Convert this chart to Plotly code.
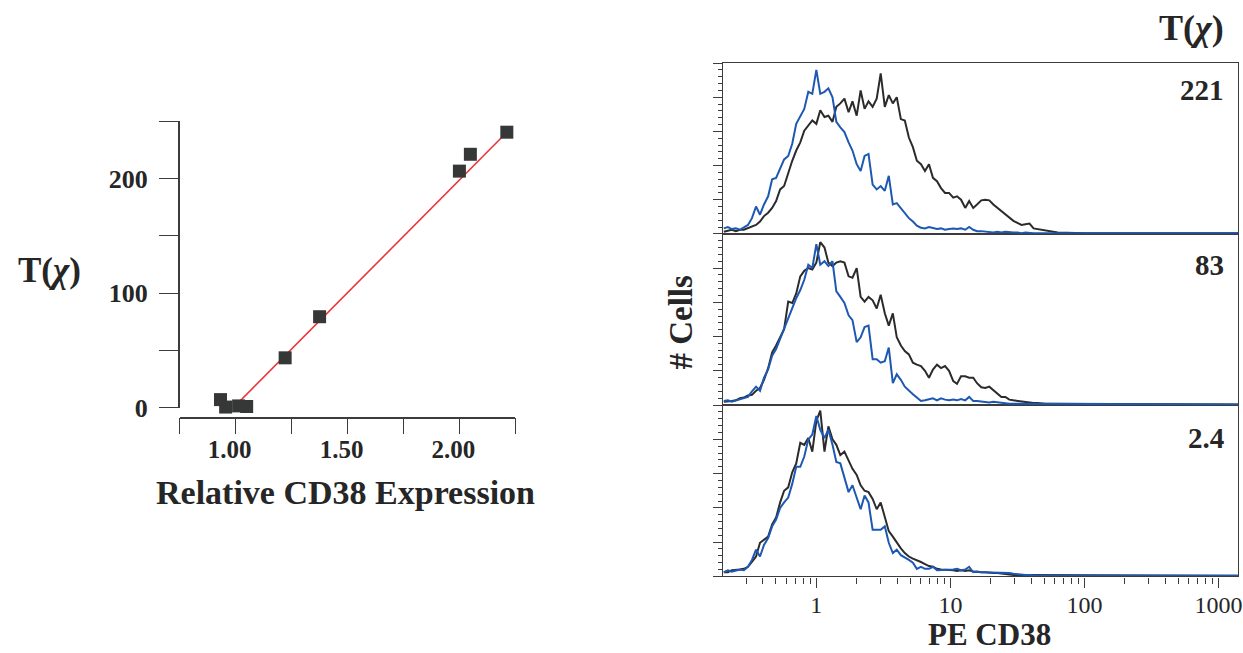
import plotly.graph_objects as go

# ---- Left panel: T(chi) versus relative CD38 expression ----
rel_cd38 = [0.932, 0.955, 1.013, 1.049, 1.221, 1.375, 2.000, 2.049, 2.212]
t_chi = [7.0, 0.5, 1.5, 1.0, 43.5, 79.4, 206.6, 221.3, 240.6]
fit_x = [0.99, 2.212]
fit_y = [0.0, 240.6]

# ---- Right panels: PE CD38 histograms (channel intensity vs. cell count) ----
pe_cd38 = [0.204, 0.219, 0.234, 0.251, 0.269, 0.288, 0.309, 0.331, 0.355, 0.380,
           0.407, 0.437, 0.468, 0.501, 0.537, 0.575, 0.617, 0.661, 0.708, 0.759,
           0.813, 0.871, 0.933, 1.00, 1.07, 1.15, 1.23, 1.32, 1.41, 1.51,
           1.62, 1.74, 1.86, 2.00, 2.14, 2.29, 2.45, 2.63, 2.82, 3.02,
           3.24, 3.47, 3.72, 3.98, 4.27, 4.57, 4.90, 5.25, 5.62, 6.03,
           6.46, 6.92, 7.41, 7.94, 8.51, 9.12, 9.77, 10.5, 11.2, 12.0,
           12.9, 13.8, 14.8, 15.8, 17.0, 18.2, 19.5, 20.9, 22.4, 24.0,
           25.7, 27.5, 29.5, 31.6, 33.9, 36.3, 38.9, 41.7, 44.7, 47.9,
           51.3, 55.0, 58.9, 63.1, 100, 1400]

# T = 221
blue_221 = [8, 10, 7, 8, 6, 9, 13, 23, 40, 28,
            43, 55, 80, 82, 97, 109, 114, 132, 161, 173,
            183, 208, 205, 240, 205, 208, 213, 200, 164, 156,
            149, 134, 122, 102, 92, 114, 117, 72, 65, 70,
            63, 85, 43, 45, 38, 31, 23, 18, 12, 9,
            8, 10, 8, 7, 8, 6, 7, 8, 7, 8,
            6, 10, 6, 4, 4, 3, 3, 2, 3, 2,
            3, 2, 2, 2, 1, 2, 1, 1, 1, 1,
            1, 1, 1, 1, 1, 1]
black_221 = [3, 4, 6, 4, 6, 6, 8, 10, 13, 18,
             26, 31, 38, 48, 65, 70, 90, 107, 122, 134,
             151, 159, 166, 161, 181, 171, 173, 164, 186, 191,
             198, 178, 194, 173, 210, 183, 194, 186, 198, 235,
             186, 203, 191, 200, 168, 166, 141, 127, 107, 102,
             92, 102, 82, 77, 67, 60, 60, 53, 55, 50,
             38, 48, 38, 43, 49, 50, 49, 43, 38, 33,
             28, 23, 19, 16, 13, 14, 15, 8, 7, 5,
             4, 3, 3, 2, 1, 1]

# T = 83
blue_83 = [6, 7, 5, 7, 8, 10, 12, 20, 27, 21,
           40, 52, 72, 82, 97, 111, 126, 139, 156, 168,
           183, 205, 200, 235, 205, 210, 203, 210, 166, 158,
           149, 131, 124, 92, 99, 114, 116, 67, 67, 62,
           64, 84, 32, 45, 37, 27, 21, 16, 11, 6,
           7, 9, 10, 7, 10, 8, 7, 8, 7, 9,
           7, 12, 6, 6, 5, 4, 4, 5, 4, 3,
           3, 2, 2, 2, 2, 1, 1, 1, 1, 1,
           1, 1, 1, 1, 1, 1]
black_83 = [5, 5, 6, 7, 10, 11, 14, 15, 21, 25,
            37, 54, 77, 87, 99, 111, 151, 149, 163, 188,
            196, 200, 198, 208, 238, 230, 208, 203, 208, 210,
            208, 188, 186, 200, 158, 151, 158, 153, 141, 161,
            134, 116, 134, 99, 87, 79, 74, 62, 59, 57,
            50, 40, 52, 59, 54, 57, 50, 35, 31, 42,
            42, 40, 40, 32, 26, 25, 27, 22, 16, 12,
            12, 8, 7, 6, 5, 4, 3, 3, 3, 2,
            2, 2, 2, 2, 1, 1]

# T = 2.4
blue_24 = [6, 9, 7, 9, 10, 9, 14, 24, 39, 29,
           46, 56, 73, 83, 100, 108, 115, 135, 160, 160,
           175, 200, 207, 234, 214, 202, 214, 192, 167, 165,
           143, 123, 133, 113, 98, 118, 108, 68, 68, 68,
           73, 49, 34, 39, 31, 28, 24, 20, 11, 14,
           11, 11, 14, 9, 9, 10, 9, 10, 11, 9,
           10, 14, 6, 7, 6, 6, 5, 6, 5, 5,
           5, 5, 4, 3, 2, 2, 2, 1, 1, 1,
           1, 1, 1, 1, 1, 1]
black_24 = [6, 6, 9, 9, 10, 11, 14, 21, 29, 49,
            53, 58, 76, 86, 108, 125, 130, 152, 165, 195,
            192, 202, 182, 227, 242, 182, 219, 200, 192, 177,
            182, 170, 157, 148, 133, 125, 123, 113, 98, 108,
            88, 66, 58, 49, 41, 34, 29, 26, 24, 21,
            18, 15, 14, 11, 10, 10, 9, 9, 8, 9,
            8, 9, 7, 6, 6, 6, 5, 5, 5, 4,
            4, 3, 2, 2, 2, 2, 1, 1, 1, 1,
            1, 1, 1, 1, 1, 1]

panel_labels = ["221", "83", "2.4"]
decade_ticks = [1, 10, 100, 1000]
decade_text = ["1", "10", "100", "1000"]
minor_ticks = [0.2, 0.3, 0.4, 0.5, 0.6, 0.7, 0.8, 0.9,
               2, 3, 4, 5, 6, 7, 8, 9,
               20, 30, 40, 50, 60, 70, 80, 90,
               200, 300, 400, 500, 600, 700, 800, 900]
left_xticks = [0.75, 1.00, 1.25, 1.50, 1.75, 2.00, 2.25]
left_xtext = ["", "1.00", "", "1.50", "", "2.00", ""]
left_yticks = [0, 50, 100, 150, 200, 250]
left_ytext = ["0", "", "100", "", "200", ""]

FONT = "Liberation Serif"
INK = "#262626"
BLUE = "#1d58b3"
BLACK = "#2b2b2b"
FRAME = "#3c3c3c"

fig = go.Figure()

# fit line, then the points on top
fig.add_trace(go.Scatter(x=fit_x, y=fit_y, mode="lines",
                         line=dict(color="#e8363c", width=1.6),
                         xaxis="x", yaxis="y", showlegend=False, hoverinfo="skip"))
fig.add_trace(go.Scatter(x=rel_cd38, y=t_chi, mode="markers",
                         marker=dict(symbol="square", size=13, color="#363838"),
                         cliponaxis=False,
                         xaxis="x", yaxis="y", showlegend=False))

# histogram panels: (x axis, y axis, black curve, blue curve)
panels = [("x4", "y4", black_221, blue_221),
          ("x3", "y3", black_83, blue_83),
          ("x2", "y2", black_24, blue_24)]
for xa, ya, blk, blu in panels:
    fig.add_trace(go.Scatter(x=pe_cd38, y=blk, mode="lines",
                             line=dict(color=BLACK, width=2),
                             xaxis=xa, yaxis=ya, showlegend=False))
    fig.add_trace(go.Scatter(x=pe_cd38, y=blu, mode="lines",
                             line=dict(color=BLUE, width=2),
                             xaxis=xa, yaxis=ya, showlegend=False))

# visible canvas in pixels (the page adds a small frame around the figure,
# so the figure itself is requested slightly larger)
W, H = 1243, 653
def px_x(p):
    return p / W
def px_y(p):
    return 1 - p / H

panel_y = dict(range=[0, 250], tick0=0, dtick=50, ticks="outside", ticklen=9,
               tickcolor=FRAME, tickwidth=1, showticklabels=False,
               minor=dict(dtick=10, ticks="outside", ticklen=4, tickcolor=FRAME),
               showline=True, linecolor=FRAME, linewidth=1.4, mirror=True,
               showgrid=False, zeroline=False, fixedrange=True)
panel_x = dict(type="log", range=[-0.695, 3.145],
               domain=[px_x(722), px_x(1236)],
               showline=True, linecolor=FRAME, linewidth=1.4, mirror=True,
               showgrid=False, zeroline=False)

b0, b1, b2, b3 = px_y(575.5), px_y(404.5), px_y(233.5), px_y(63)

fig.update_layout(
    width=W + 6, height=H + 16, autosize=False,
    margin=dict(l=0, r=0, t=0, b=0),
    paper_bgcolor="white", plot_bgcolor="white",
    font=dict(family=FONT, color=INK),
    xaxis=dict(range=[0.75, 2.25], domain=[px_x(179.5), px_x(514.5)],
               anchor="free", position=px_y(417),
               tickvals=left_xticks, ticktext=left_xtext,
               ticks="outside", ticklen=16, tickwidth=1.2, tickcolor=FRAME,
               tickfont=dict(family=FONT, size=25, color=INK, weight="bold"),
               ticklabelshift=-6, ticklabelstandoff=-6,
               showline=True, linecolor=FRAME, linewidth=1.5,
               showgrid=False, zeroline=False),
    yaxis=dict(range=[0, 250], domain=[px_y(407), px_y(121.25)],
               anchor="x",
               tickvals=left_yticks, ticktext=left_ytext,
               ticks="outside", ticklen=19, tickwidth=1.2, tickcolor=FRAME,
               tickfont=dict(family=FONT, size=26, color=INK, weight="bold"),
               ticklabelstandoff=6,
               showline=True, linecolor=FRAME, linewidth=1.5,
               showgrid=False, zeroline=False),
    xaxis2=dict(panel_x, anchor="y2", tickvals=decade_ticks, ticktext=decade_text,
                ticks="outside", ticklen=10, tickcolor=FRAME,
                minor=dict(tickvals=minor_ticks, ticks="outside", ticklen=6,
                           tickcolor=FRAME),
                ticklabelstandoff=-3,
                tickfont=dict(family=FONT, size=24, color=INK)),
    xaxis3=dict(panel_x, anchor="y3", showticklabels=False, ticks=""),
    xaxis4=dict(panel_x, anchor="y4", showticklabels=False, ticks=""),
    yaxis2=dict(panel_y, domain=[b0, b1], anchor="x2"),
    yaxis3=dict(panel_y, domain=[b1, b2], anchor="x3"),
    yaxis4=dict(panel_y, domain=[b2, b3], anchor="x4"),
)

bold = dict(family=FONT, color=INK, weight="bold")
ann = []
ann.append(dict(text="Relative CD38 Expression", x=px_x(345), y=px_y(492),
                font=dict(bold, size=34)))
ann.append(dict(text="T(<i>χ</i>)", x=px_x(49), y=px_y(270),
                font=dict(bold, size=35)))
ann.append(dict(text="PE CD38", x=px_x(988), y=px_y(653), yanchor="bottom",
                font=dict(bold, size=31)))
ann.append(dict(text="# Cells", x=px_x(680), y=px_y(322), textangle=-90,
                font=dict(bold, size=33)))
ann.append(dict(text="T(<i>χ</i>)", x=px_x(1190), y=px_y(28),
                font=dict(bold, size=36)))
for lab, yc in zip(panel_labels, [90, 265, 437]):
    ann.append(dict(text=lab, x=px_x(1224), y=px_y(yc), xanchor="right",
                    font=dict(bold, size=29)))
for a in ann:
    a.setdefault("xanchor", "center")
    a.setdefault("yanchor", "middle")
    a.update(xref="paper", yref="paper", showarrow=False)
fig.update_layout(annotations=ann)

fig.write_html("out.html", config={"responsive": False})
